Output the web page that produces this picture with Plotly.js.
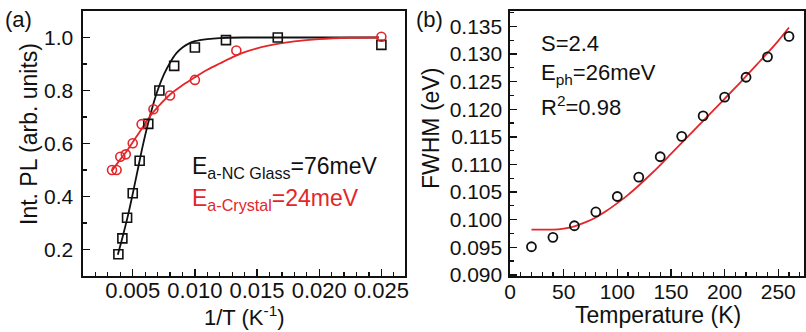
<!DOCTYPE html>
<html>
<head>
<meta charset="utf-8">
<script src="https://cdn.plot.ly/plotly-3.0.1.min.js"></script>
<style>
  html, body { margin: 0; padding: 0; background: #fff; }
  #chart { width: 806px; height: 332px; }
</style>
</head>
<body>
<div id="chart"></div>
<script>
// (a) integrated PL intensity vs inverse temperature
const glassInvT = [1/260, 1/240, 1/220, 1/200, 1/180, 1/160, 1/140, 1/120, 1/100, 1/80, 1/60, 1/40];
const glassPL   = [0.182, 0.242, 0.320, 0.412, 0.535, 0.674, 0.800, 0.893, 0.962, 0.990, 1.000, 0.972];
const crystalInvT = [1/300, 1/270, 1/250, 1/225, 1/200, 1/175, 1/150, 1/125, 1/100, 1/75, 1/40];
const crystalPL   = [0.500, 0.500, 0.550, 0.559, 0.601, 0.673, 0.729, 0.781, 0.840, 0.951, 1.003];

// Arrhenius fit curves
const glassFitX = [0.0038, 0.0042, 0.0046, 0.0050, 0.0054, 0.0058, 0.0062, 0.0066, 0.0070, 0.0075,
                   0.0080, 0.0085, 0.0090, 0.0095, 0.0100, 0.0110, 0.0120, 0.0140, 0.0180, 0.0248];
const glassFitY = [0.180, 0.250, 0.325, 0.410, 0.500, 0.590, 0.670, 0.740, 0.800, 0.860,
                   0.905, 0.940, 0.962, 0.977, 0.986, 0.994, 0.998, 1.000, 1.000, 1.000];
const crystalFitX = [0.0033, 0.0040, 0.0045, 0.0050, 0.0055, 0.0060, 0.0065, 0.0070, 0.0080, 0.0090,
                     0.0100, 0.0110, 0.0120, 0.0130, 0.0140, 0.0160, 0.0180, 0.0200, 0.0225, 0.0248];
const crystalFitY = [0.495, 0.540, 0.570, 0.605, 0.640, 0.675, 0.710, 0.737, 0.785, 0.820,
                     0.850, 0.878, 0.902, 0.925, 0.945, 0.970, 0.985, 0.994, 0.999, 1.000];

// (b) FWHM vs temperature
const tempK = [20, 40, 60, 80, 100, 120, 140, 160, 180, 200, 220, 240, 260];
const fwhm  = [0.0951, 0.0968, 0.0989, 0.1014, 0.1042, 0.1077, 0.1114, 0.1151, 0.1188, 0.1222, 0.1258, 0.1295, 0.1332];
const fwhmFitT = [20, 30, 40, 50, 60, 70, 80, 90, 100, 110, 120, 130, 140, 150, 160, 170, 180, 190, 200, 210, 220, 230, 240, 250, 260];
const fwhmFitY = [0.0982, 0.0982, 0.0982, 0.0984, 0.0988, 0.0995, 0.1004, 0.1016, 0.1030, 0.1045, 0.1062, 0.1080, 0.1099,
                  0.1119, 0.1139, 0.1159, 0.1179, 0.1199, 0.1219, 0.1239, 0.1260, 0.1281, 0.1302, 0.1324, 0.1348];

const RED = '#e3262a';
const INK = '#111111';
const FONT = 'Liberation Sans, Arial, sans-serif';

const traces = [
  { x: glassFitX, y: glassFitY, mode: 'lines', line: { color: INK, width: 1.8, shape: 'spline' },
    xaxis: 'x', yaxis: 'y', hoverinfo: 'skip' },
  { x: crystalFitX, y: crystalFitY, mode: 'lines', line: { color: RED, width: 1.8, shape: 'spline' },
    xaxis: 'x', yaxis: 'y', hoverinfo: 'skip' },
  { x: glassInvT, y: glassPL, mode: 'markers',
    marker: { symbol: 'square-open', size: 9, color: INK, line: { width: 1.6, color: INK } },
    xaxis: 'x', yaxis: 'y' },
  { x: crystalInvT, y: crystalPL, mode: 'markers',
    marker: { symbol: 'circle-open', size: 9, color: RED, line: { width: 1.6, color: RED } },
    xaxis: 'x', yaxis: 'y' },
  { x: fwhmFitT, y: fwhmFitY, mode: 'lines', line: { color: RED, width: 1.8, shape: 'spline' },
    xaxis: 'x2', yaxis: 'y2', hoverinfo: 'skip' },
  { x: tempK, y: fwhm, mode: 'markers',
    marker: { symbol: 'circle-open', size: 9, color: INK, line: { width: 1.8, color: INK } },
    xaxis: 'x2', yaxis: 'y2' }
];

const axisBase = {
  showgrid: false, zeroline: false, showline: true, mirror: true,
  linecolor: INK, linewidth: 1.6, ticks: 'inside', ticklen: 7, tickwidth: 1.4, tickcolor: INK,
  tickfont: { family: FONT, size: 21, color: INK }
};

const yDom = [1 - 276 / 332, 1 - 11 / 332];
const TITLE_FONT = { family: FONT, size: 23, color: INK };

const layout = {
  width: 806, height: 332,
  margin: { l: 0, r: 0, t: 0, b: 0 },
  paper_bgcolor: '#ffffff', plot_bgcolor: '#ffffff',
  showlegend: false,
  xaxis: Object.assign({}, axisBase, {
    domain: [83 / 806, 405 / 806], range: [0.001, 0.0269],
    tick0: 0, dtick: 0.005, tickformat: '.3f', ticklabelstandoff: -6,
    tickfont: { family: FONT, size: 22, color: INK },
    minor: { dtick: 0.001, ticks: 'inside', ticklen: 4, tickwidth: 1.2, tickcolor: INK }
  }),
  yaxis: Object.assign({}, axisBase, {
    domain: yDom, range: [0.1, 1.1],
    tick0: 0, dtick: 0.2, tickformat: '.1f', ticklabelstandoff: 4,
    minor: { dtick: 0.1, ticks: 'inside', ticklen: 4, tickwidth: 1.2, tickcolor: INK }
  }),
  xaxis2: Object.assign({}, axisBase, {
    anchor: 'y2',
    domain: [510 / 806, 804 / 806], range: [0, 274],
    tick0: 0, dtick: 50, ticklabelstandoff: -4,
    minor: { dtick: 10, ticks: 'inside', ticklen: 4, tickwidth: 1.2, tickcolor: INK }
  }),
  yaxis2: Object.assign({}, axisBase, {
    anchor: 'x2',
    domain: yDom, range: [0.0898, 0.1378],
    tick0: 0, dtick: 0.005, tickformat: '.3f', ticklabelstandoff: 2,
    minor: { dtick: 0.0025, ticks: 'inside', ticklen: 4, tickwidth: 1.2, tickcolor: INK }
  }),
  annotations: [
    // panel tags
    { text: '(a)', x: 3 / 806, y: 1 - 20 / 332, xref: 'paper', yref: 'paper', xanchor: 'left', yanchor: 'middle',
      showarrow: false, font: { family: FONT, size: 22, color: INK } },
    { text: '(b)', x: 414 / 806, y: 1 - 20 / 332, xref: 'paper', yref: 'paper', xanchor: 'left', yanchor: 'middle',
      showarrow: false, font: { family: FONT, size: 22, color: INK } },
    // axis titles
    { text: 'Int. PL (arb. units)', x: 29 / 806, y: 1 - 134 / 332, xref: 'paper', yref: 'paper',
      xanchor: 'center', yanchor: 'middle', textangle: -90, showarrow: false, font: TITLE_FONT },
    { text: '1/T (K<sup>-1</sup>)', x: 245 / 806, y: 0, xref: 'paper', yref: 'paper',
      xanchor: 'center', yanchor: 'bottom', showarrow: false, font: { family: FONT, size: 22, color: INK } },
    { text: 'FWHM (eV)', x: 431 / 806, y: 1 - 129 / 332, xref: 'paper', yref: 'paper',
      xanchor: 'center', yanchor: 'middle', textangle: -90, showarrow: false, font: TITLE_FONT },
    { text: 'Temperature (K)', x: 658 / 806, y: 1 - 315 / 332, xref: 'paper', yref: 'paper',
      xanchor: 'center', yanchor: 'middle', showarrow: false, font: TITLE_FONT },
    // activation energies
    { text: 'E<sub>a-NC Glass</sub>=76meV', x: 190 / 806, y: 1 - 167 / 332, xref: 'paper', yref: 'paper',
      xanchor: 'left', yanchor: 'middle', showarrow: false,
      font: { family: FONT, size: 23, color: INK } },
    { text: 'E<sub>a-Crystal</sub>=24meV', x: 190 / 806, y: 1 - 199 / 332, xref: 'paper', yref: 'paper',
      xanchor: 'left', yanchor: 'middle', showarrow: false,
      font: { family: FONT, size: 23, color: RED } },
    // phonon coupling fit parameters
    { text: 'S=2.4', x: 539 / 806, y: 1 - 43 / 332, xref: 'paper', yref: 'paper',
      xanchor: 'left', yanchor: 'middle', showarrow: false,
      font: { family: FONT, size: 22, color: INK } },
    { text: 'E<sub>ph</sub>=26meV', x: 539 / 806, y: 1 - 74 / 332, xref: 'paper', yref: 'paper',
      xanchor: 'left', yanchor: 'middle', showarrow: false,
      font: { family: FONT, size: 22, color: INK } },
    { text: 'R<sup>2</sup>=0.98', x: 539 / 806, y: 1 - 106 / 332, xref: 'paper', yref: 'paper',
      xanchor: 'left', yanchor: 'middle', showarrow: false,
      font: { family: FONT, size: 22, color: INK } }
  ]
};

Plotly.newPlot('chart', traces, layout, { staticPlot: true, displayModeBar: false });
</script>
</body>
</html>
